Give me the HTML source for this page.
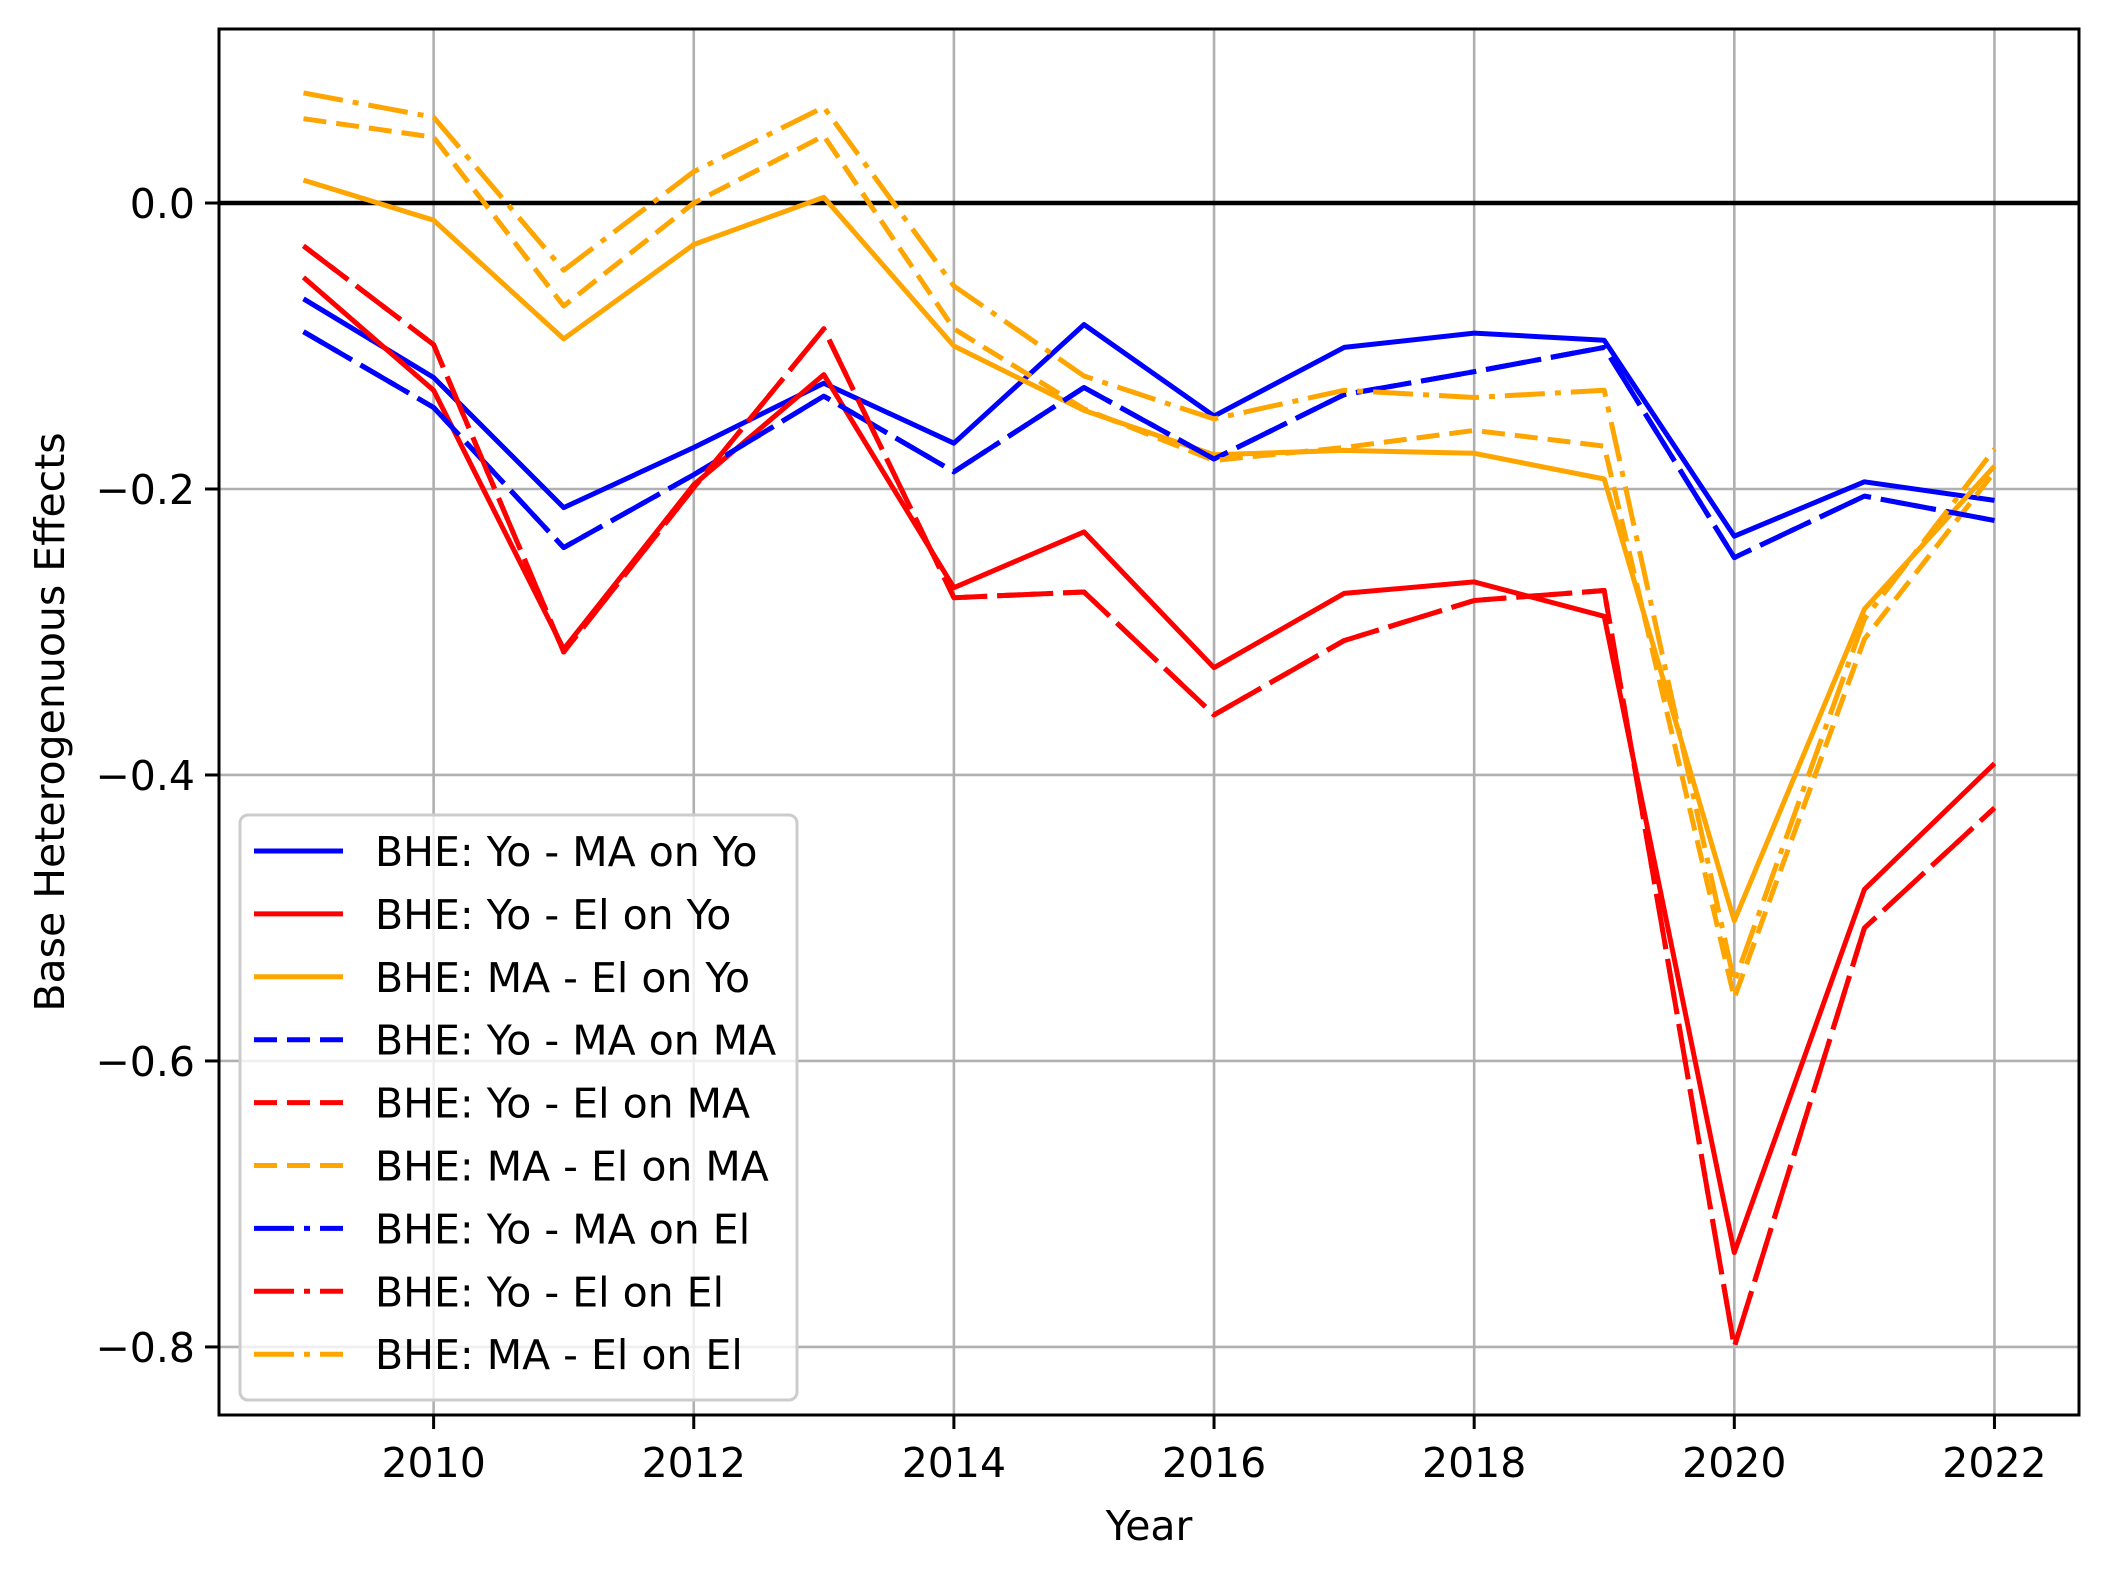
<!DOCTYPE html>
<html><head><meta charset="utf-8"><style>
html,body{margin:0;padding:0;background:#fff}
svg text{font-family:"DejaVu Sans","Liberation Sans",sans-serif;fill:#000}
</style></head><body>
<svg id="chart" width="2109" height="1575" xmlns="http://www.w3.org/2000/svg">
<rect width="2109" height="1575" fill="#fff"/>
<g id="grid"></g>
<g id="zero"></g>
<g id="series"></g>
<g id="axes"></g>
<g id="legend"></g>
<text x="1149" y="1540" font-size="41" text-anchor="middle">Year</text>
<text transform="translate(64,722) rotate(-90)" font-size="41" text-anchor="middle">Base Heterogenuous Effects</text>
</svg>
<script>
const years = [2009,2010,2011,2012,2013,2014,2015,2016,2017,2018,2019,2020,2021,2022];
const yoMaOnYo = [-0.067,-0.122,-0.213,-0.171,-0.126,-0.168,-0.085,-0.149,-0.101,-0.091,-0.096,-0.233,-0.195,-0.208];
const yoElOnYo = [-0.052,-0.131,-0.312,-0.197,-0.120,-0.269,-0.230,-0.325,-0.273,-0.265,-0.289,-0.734,-0.480,-0.392];
const maElOnYo = [0.016,-0.012,-0.095,-0.029,0.004,-0.100,-0.145,-0.176,-0.173,-0.175,-0.193,-0.502,-0.284,-0.184];
const yoMaOnMa = [-0.090,-0.143,-0.241,-0.190,-0.135,-0.188,-0.129,-0.179,-0.134,-0.118,-0.101,-0.248,-0.205,-0.222];
const yoElOnMa = [-0.030,-0.099,-0.314,-0.199,-0.088,-0.276,-0.272,-0.358,-0.306,-0.278,-0.271,-0.800,-0.507,-0.423];
const maElOnMa = [0.059,0.046,-0.072,0.000,0.047,-0.088,-0.144,-0.180,-0.171,-0.159,-0.170,-0.556,-0.305,-0.188];
const yoMaOnEl = [-0.090,-0.143,-0.241,-0.190,-0.135,-0.188,-0.129,-0.179,-0.134,-0.118,-0.101,-0.248,-0.205,-0.222];
const yoElOnEl = [-0.030,-0.099,-0.314,-0.199,-0.088,-0.276,-0.272,-0.358,-0.306,-0.278,-0.271,-0.800,-0.507,-0.423];
const maElOnEl = [0.077,0.060,-0.047,0.022,0.067,-0.058,-0.121,-0.151,-0.131,-0.136,-0.131,-0.545,-0.291,-0.172];
const xTicks = [2010,2012,2014,2016,2018,2020,2022];
const yTicks = [0.0,-0.2,-0.4,-0.6,-0.8];
const yTickLabels = ["0.0","\u22120.2","\u22120.4","\u22120.6","\u22120.8"];
const seriesNames = ["BHE: Yo - MA on Yo","BHE: Yo - El on Yo","BHE: MA - El on Yo","BHE: Yo - MA on MA","BHE: Yo - El on MA","BHE: MA - El on MA","BHE: Yo - MA on El","BHE: Yo - El on El","BHE: MA - El on El"];

const NS="http://www.w3.org/2000/svg";
const L=219,R=2079,T=29,B=1415;
const X0=2008.35,X1=2022.65,Y0=-0.8476,Y1=0.1217;
const sx=v=>L+(v-X0)/(X1-X0)*(R-L);
const sy=v=>B-(v-Y0)/(Y1-Y0)*(B-T);
function mk(tag,attrs,parent){const e=document.createElementNS(NS,tag);for(const k in attrs)e.setAttribute(k,attrs[k]);parent.appendChild(e);return e;}
const grid=document.getElementById('grid'),axes=document.getElementById('axes');
xTicks.forEach(t=>{
  const x=sx(t);
  const g=mk('line',{x1:x,x2:x,y1:T,y2:B,stroke:'#b0b0b0','stroke-width':2.6},grid);
  
  
  const tk=mk('line',{x1:x,x2:x,y1:B,y2:B+14,stroke:'#000','stroke-width':3},axes);
  
  
  const tx=mk('text',{x:x,y:B+62,'font-size':41,'text-anchor':'middle'},axes);
  tx.textContent=t;
  
  
});
yTicks.forEach((t,i)=>{
  const y=sy(t);
  const g=mk('line',{x1:L,x2:R,y1:y,y2:y,stroke:'#b0b0b0','stroke-width':2.6},grid);
  
  
  const tk=mk('line',{x1:L-14,x2:L,y1:y,y2:y,stroke:'#000','stroke-width':3},axes);
  
  
  const tx=mk('text',{x:L-24,y:y+15,'font-size':41,'text-anchor':'end'},axes);
  tx.textContent=yTickLabels[i];
  
  
});
const fr=mk('rect',{x:L,y:T,width:R-L,height:B-T,fill:'none',stroke:'#000','stroke-width':3},axes);


const zl=mk('line',{x1:L,x2:R,y1:sy(0),y2:sy(0),stroke:'#000','stroke-width':4.5},document.getElementById('zero'));



const BLUE='#0000ff',RED='#ff0000',OR='#ffa500';
const DASH='23,10',DD='40,10,6,10';
const defs=[
 [yoMaOnYo,BLUE,null],[yoElOnYo,RED,null],[maElOnYo,OR,null],
 [yoMaOnMa,BLUE,DASH],[yoElOnMa,RED,DASH],[maElOnMa,OR,DASH],
 [yoMaOnEl,BLUE,DD],[yoElOnEl,RED,DD],[maElOnEl,OR,DD]];
const sg=document.getElementById('series');
defs.forEach((d,i)=>{
  const pts=d[0].map((v,j)=>sx(years[j]).toFixed(1)+','+sy(v).toFixed(1)).join(' ');
  const a={points:pts,fill:'none',stroke:d[1],'stroke-width':5,'stroke-linejoin':'round'};
  if(d[2])a['stroke-dasharray']=d[2];
  const p=mk('polyline',a,sg);
  
  
});
const lg=document.getElementById('legend');
const box=mk('rect',{x:240,y:815,width:557,height:585,rx:8,fill:'#fff','fill-opacity':0.8,stroke:'#cccccc','stroke-width':3},lg);


seriesNames.forEach((n,i)=>{
  const y=851+i*62.9;
  const a={x1:254,x2:343,y1:y,y2:y,stroke:defs[i][1],'stroke-width':5};
  if(defs[i][2])a['stroke-dasharray']=defs[i][2];
  const ln=mk('line',a,lg);
  
  
  const t=mk('text',{x:375,y:y+15,'font-size':41},lg);
  t.textContent=n;
  
  
});
</script>
</body></html>
